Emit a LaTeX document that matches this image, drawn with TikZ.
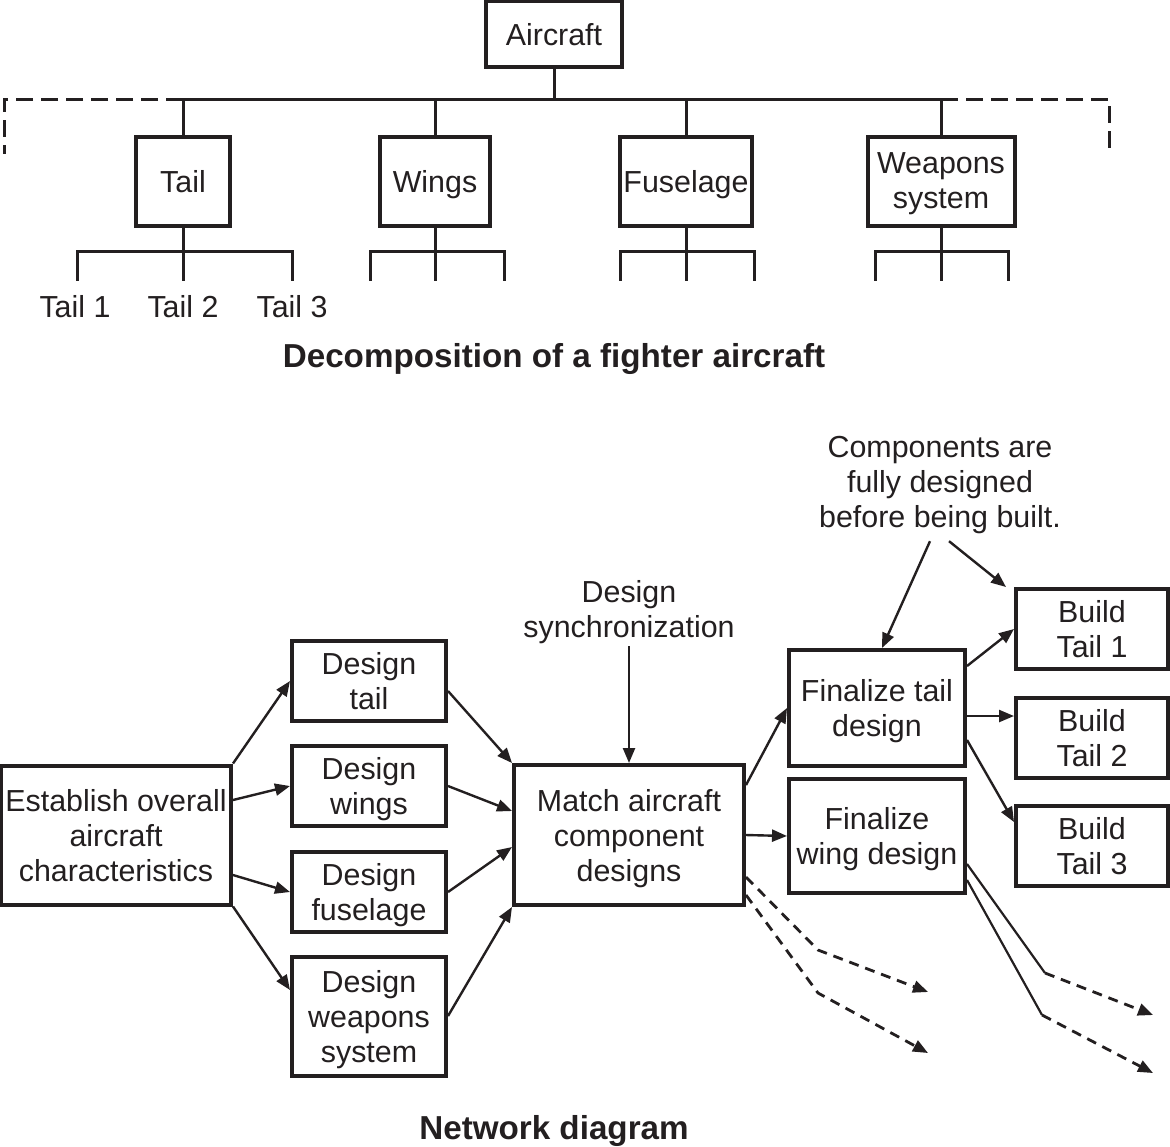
\documentclass[tikz,border=0pt]{standalone}
\usepackage{fontspec}
\setmainfont{Liberation Sans}
\usetikzlibrary{arrows.meta,calc,positioning}
\definecolor{aink}{HTML}{231F20}
\newcommand\afont{\fontsize{15.2}{17.5}\selectfont}
\newcommand\abold{\fontsize{16.6}{19}\selectfont\bfseries}
\tikzset{
  >={Triangle[length=7.5pt,width=6pt]},
  abox/.style={draw=aink, line width=2pt, fill=white, align=center,
               inner sep=1pt, text depth=0pt, text=aink, font=\afont},
  atxt/.style={align=center, inner sep=1pt, text=aink, font=\afont},
  atitle/.style={inner sep=1pt, text depth=0pt, text=aink, font=\abold},
  alink/.style={draw=aink, line width=1.5pt},
  acut/.style={draw=aink, line width=1.5pt, dash pattern=on 8.5pt off 4pt},
  aarr/.style={->, draw=aink, line width=1.2pt},
  aline/.style={draw=aink, line width=1.1pt},
  anext/.style={->, draw=aink, line width=1.4pt, dash pattern=on 5pt off 3.5pt},
}
\begin{document}
\begin{tikzpicture}[x=0.5pt,y=-0.5pt]
  \useasboundingbox (0,0) rectangle (1170,1146);

  % decomposition tree
  \node[abox, minimum width=68pt, minimum height=33pt] (air) at (554,34) {Aircraft};
  \node[abox, minimum width=47pt, minimum height=44.5pt] (tail) at (183,181) {Tail};
  \node[abox, minimum width=55pt, minimum height=44.5pt] (wing) at (435,181) {Wings};
  \node[abox, minimum width=66pt, minimum height=44.5pt] (fus) at (686,181) {Fuselage};
  \node[abox, minimum width=73.5pt, minimum height=44.5pt, text depth=-1pt] (weap) at (941,181) {Weapons\\system};

  \coordinate (bus) at (554,99);
  \coordinate (cutL) at (4,154);
  \coordinate (cutR) at (1109,155);
  \draw[alink] (air.south) -- (bus);
  \draw[alink] (tail.north |- bus) -- (weap.north |- bus);
  \foreach \p in {tail,wing,fus,weap}
    \draw[alink] (\p.north) -- (\p.north |- bus);
  \draw[acut] (tail.north |- bus) -| (cutL);
  \draw[acut] (weap.north |- bus) -| (cutR);

  \foreach \p/\l/\r in {tail/-106/109, wing/-65/69, fus/-66/68, weap/-66/67} {
    \draw[alink] (\p.south) -- ++(0,24) coordinate (\p-b) -- ++(0,29);
    \draw[alink] ($(\p-b)+(\l,29)$) -- ($(\p-b)+(\l,0)$) -- ($(\p-b)+(\r,0)$) -- ($(\p-b)+(\r,29)$);
  }
  \node[atxt] (t1) at (75,307) {Tail 1};
  \node[atxt] (t2) at (183,307) {Tail 2};
  \node[atxt] (t3) at (292,307) {Tail 3};

  \node[atitle] (title1) at (554,355) {Decomposition of a fighter aircraft};

  % network diagram
  \node[abox, minimum width=115pt, minimum height=69.5pt, text depth=-3pt] (est) at (116,835)
       {Establish overall\\aircraft\\characteristics};
  \node[abox, minimum width=77pt, minimum height=40pt] (dtail) at (369,681) {Design\\tail};
  \node[abox, minimum width=77pt, minimum height=40pt] (dwing) at (369,786) {Design\\wings};
  \node[abox, minimum width=77pt, minimum height=40pt] (dfus) at (369,892) {Design\\fuselage};
  \node[abox, minimum width=77pt, minimum height=59.5pt] (dweap) at (369,1016) {Design\\weapons\\system};
  \node[abox, minimum width=115pt, minimum height=70pt, text depth=-3pt] (match) at (629,835)
       {Match aircraft\\component\\designs};
  \node[atxt] (sync) at (629,612) {Design\\synchronization};
  \node[abox, minimum width=88pt, minimum height=58pt, text depth=-1pt] (ftail) at (877,708) {Finalize tail\\design};
  \node[abox, minimum width=88pt, minimum height=57pt, text depth=-3pt] (fwing) at (877,836) {Finalize\\wing design};
  \node[abox, minimum width=76pt, minimum height=40pt, text depth=-1pt] (b1) at (1092,629) {Build\\Tail 1};
  \node[abox, minimum width=76pt, minimum height=40pt, text depth=-1pt] (b2) at (1092,738) {Build\\Tail 2};
  \node[abox, minimum width=76pt, minimum height=40pt, text depth=-1pt] (b3) at (1092,846) {Build\\Tail 3};
  \node[atxt] (comm) at (940,485) {Components are\\fully designed\\before being built.};

  \draw[aarr] (est.north east) -- (dtail.west);
  \draw[aarr] ([yshift=17.5pt]est.east) -- (dwing.west);
  \draw[aarr] ([yshift=-20pt]est.east) -- (dfus.west);
  \draw[aarr] (est.south east) -- ([yshift=13pt]dweap.west);

  \draw[aarr] ([yshift=-5pt]dtail.east) -- (match.north west);
  \draw[aarr] (dwing.east) -- ([yshift=12pt]match.west);
  \draw[aarr] (dfus.east) -- ([yshift=-6pt]match.west);
  \draw[aarr] (dweap.east) -- (match.south west);

  \draw[aarr] (sync.south) -- (match.north);
  \draw[aarr] ([yshift=25pt]match.east) -- (ftail.west);
  \draw[aarr] (match.east) -- (fwing.west);

  \draw[aarr] ([xshift=-5pt,yshift=-2.5pt]comm.south) -- ([xshift=2.5pt]ftail.north);
  \draw[aarr] ([xshift=4.5pt,yshift=-2.5pt]comm.south) -- ([xshift=-4pt]b1.north west);

  \draw[aarr] ([yshift=21pt]ftail.east) -- (b1.west);
  \draw[aarr] ([yshift=-4pt]ftail.east) -- ([yshift=11pt]b2.west);
  \draw[aarr] ([yshift=-16pt]ftail.east) -- ([yshift=12pt]b3.west);

  % later steps
  \coordinate (m1) at (818,950);
  \coordinate (m1e) at (928,992);
  \coordinate (m2) at (818,993);
  \coordinate (m2e) at (928,1053);
  \coordinate (w1) at (1045,973);
  \coordinate (w1e) at (1153,1015);
  \coordinate (w2) at (1042,1015);
  \coordinate (w2e) at (1153,1073);
  \draw[anext] ([yshift=-21pt]match.east) -- (m1) -- (m1e);
  \draw[anext] ([yshift=-30pt]match.east) -- (m2) -- (m2e);
  \draw[aline] ([yshift=-14pt]fwing.east) -- (w1);
  \draw[anext] (w1) -- (w1e);
  \draw[aline] ([yshift=-22pt]fwing.east) -- (w2);
  \draw[anext] (w2) -- (w2e);

  \node[atitle] (title2) at (554,1127) {Network diagram};
\end{tikzpicture}
\end{document}
